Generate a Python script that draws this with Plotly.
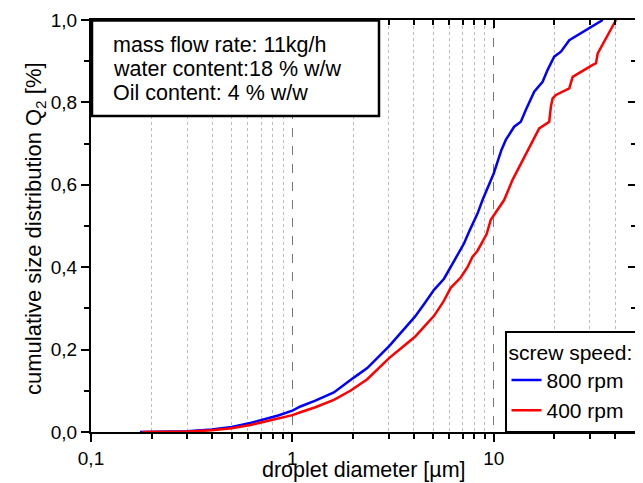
import plotly.graph_objects as go

# droplet diameter [µm] and cumulative distribution values
blue_x = [0.175, 0.25, 0.30, 0.398, 0.50, 0.618, 0.748, 0.85, 1.0, 1.096, 1.30, 1.606,
          2.018, 2.353, 3.03, 3.5, 4.06, 4.5, 5.05, 5.66, 6.11, 6.5, 7.12, 7.6, 8.3,
          8.79, 9.5, 10.0, 10.9, 11.47, 12.62, 13.62, 14.43, 15.28, 15.87, 17.47,
          18.50, 19.95, 21.54, 23.70, 34.74]
blue_y = [0.0, 0.0005, 0.002, 0.006, 0.012, 0.022, 0.033, 0.040, 0.052, 0.062, 0.076, 0.096,
          0.132, 0.155, 0.209, 0.245, 0.280, 0.310, 0.345, 0.372, 0.401, 0.425, 0.458, 0.490, 0.530,
          0.563, 0.600, 0.628, 0.684, 0.709, 0.741, 0.753, 0.782, 0.810, 0.826, 0.850,
          0.879, 0.911, 0.923, 0.951, 1.0]

red_x = [0.18, 0.30, 0.398, 0.50, 0.618, 0.748, 0.85, 1.0, 1.096, 1.30, 1.606, 1.94,
         2.353, 3.03, 3.5, 4.06, 4.5, 5.05, 5.6, 6.11, 6.85, 7.4, 7.83, 8.3, 8.79, 9.2,
         9.66, 11.25, 12.39, 13.62, 14.72, 15.87, 16.80, 18.84, 19.21, 19.59, 20.35,
         23.70, 24.63, 30.97, 32.17, 32.80, 36.07, 40.45]
red_y = [0.0, 0.001, 0.004, 0.009, 0.017, 0.026, 0.032, 0.041, 0.048, 0.060, 0.078, 0.100,
         0.128, 0.180, 0.205, 0.231, 0.255, 0.282, 0.315, 0.350, 0.375, 0.400, 0.425, 0.440, 0.462, 0.480,
         0.515, 0.563, 0.612, 0.652, 0.684, 0.713, 0.737, 0.753, 0.790, 0.810, 0.818,
         0.834, 0.862, 0.891, 0.895, 0.919, 0.955, 1.0]

series_names = ["800 rpm", "400 rpm"]
legend_title = "screw speed:"
info_lines = ["mass flow rate: 11kg/h", "water content:18 % w/w", "Oil content: 4 % w/w"]
x_title = "droplet diameter [µm]"
y_title = "cumulative size distribution Q<sub>2</sub> [%]"

x_major = [0.1, 1, 10]
x_major_text = ["0,1", "1", "10"]
x_minor = [0.2, 0.3, 0.4, 0.5, 0.6, 0.7, 0.8, 0.9, 2, 3, 4, 5, 6, 7, 8, 9, 20, 30, 40]
y_major = [0, 0.2, 0.4, 0.6, 0.8, 1.0]
y_minor = [0.1, 0.3, 0.5, 0.7, 0.9]

FONT = "Liberation Sans, Arial, sans-serif"
# the page body adds an 8 px offset; the figure is sized to fit the window
W, H = 635, 475
L, T, PW, PH = 83, 12, 545, 412
R, B = W - L - PW, H - T - PH
SX0, SY0 = 91, 20  # plot-area top-left as seen in the window


def px(sx):
    return (sx - SX0) / PW


def py(sy):
    return (SY0 + PH - sy) / PH


fig = go.Figure()
fig.add_trace(go.Scatter(x=blue_x, y=blue_y, mode="lines", name=series_names[0],
                         line=dict(color="#0000FF", width=2.5)))
fig.add_trace(go.Scatter(x=red_x, y=red_y, mode="lines", name=series_names[1],
                         line=dict(color="#FF0000", width=2.5)))
# invisible trace to carry mirrored axes
fig.add_trace(go.Scatter(x=[1], y=[0.5], xaxis="x2", yaxis="y2", mode="markers",
                         marker=dict(opacity=0), showlegend=False, hoverinfo="skip"))

xr = [-1, 1.706]
fig.update_layout(
    width=W, height=H,
    margin=dict(l=L, r=R, t=T, b=B, autoexpand=False),
    paper_bgcolor="white", plot_bgcolor="white",
    separators=",.",
    font=dict(family=FONT, size=19, color="black"),
    showlegend=True,
    legend=dict(
        title=dict(text=legend_title, font=dict(size=21)),
        x=1, y=0, xanchor="right", yanchor="bottom",
        bgcolor="white", bordercolor="black", borderwidth=1.5,
        font=dict(size=21), tracegroupgap=0,
    ),
    xaxis=dict(
        type="log", range=xr, automargin=False,
        tickmode="array", tickvals=x_major, ticktext=x_major_text,
        tickfont=dict(size=19),
        ticks="outside", ticklen=8, tickwidth=1.5, tickcolor="black",
        showline=True, linecolor="black", linewidth=2, mirror=True,
        showgrid=True, gridcolor="#777777", griddash="dash", gridwidth=1,
        minor=dict(tickmode="array", tickvals=x_minor, ticks="outside", ticklen=5,
                   tickwidth=1.5, tickcolor="black", showgrid=True,
                   gridcolor="#BBBBBB", griddash="dot", gridwidth=1),
        zeroline=False,
    ),
    yaxis=dict(
        range=[0, 1], automargin=False, tickmode="array", tickvals=y_major,
        tickformat=".1f", tickfont=dict(size=19),
        ticks="outside", ticklen=8, tickwidth=1.5, tickcolor="black",
        showline=True, linecolor="black", linewidth=2, mirror=True,
        showgrid=False, zeroline=False,
        minor=dict(tickmode="array", tickvals=y_minor, ticks="outside",
                   ticklen=5, tickwidth=1.5, tickcolor="black", showgrid=False),
    ),
    xaxis2=dict(
        type="log", range=xr, overlaying="x", side="top", automargin=False,
        tickmode="array", tickvals=x_major, showticklabels=False,
        ticks="inside", ticklen=8, tickwidth=1.5, tickcolor="black",
        showgrid=False, zeroline=False, showline=False,
        minor=dict(tickmode="array", tickvals=x_minor, ticks="inside", ticklen=5,
                   tickwidth=1.5, tickcolor="black", showgrid=False),
    ),
    yaxis2=dict(
        range=[0, 1], overlaying="y", side="right", automargin=False,
        tickmode="array", tickvals=y_major, showticklabels=False,
        ticks="inside", ticklen=8, tickwidth=1.5, tickcolor="black",
        showgrid=False, zeroline=False, showline=False,
        minor=dict(tickmode="array", tickvals=y_minor, ticks="inside",
                   ticklen=5, tickwidth=1.5, tickcolor="black", showgrid=False),
    ),
)

# axis titles as annotations (placed like the reference)
fig.add_annotation(text=x_title, xref="paper", yref="paper", x=0.5, y=py(470),
                   xanchor="center", yanchor="middle", showarrow=False,
                   font=dict(family=FONT, size=21.5, color="black"))
fig.add_annotation(text=y_title, xref="paper", yref="paper", x=px(35), y=py(229),
                   xanchor="center", yanchor="middle", showarrow=False, textangle=-90,
                   font=dict(family=FONT, size=22, color="black"))

# info box
fig.add_shape(type="rect", xref="paper", yref="paper", x0=px(92), x1=px(379), y0=py(116), y1=py(20.5),
              line=dict(color="black", width=2.5), fillcolor="white", layer="above")
for i, (line, sy) in enumerate(zip(info_lines, [45, 69, 93])):
    fig.add_annotation(text=line, xref="paper", yref="paper", x=px(111), y=py(sy),
                       xanchor="left", yanchor="middle", showarrow=False,
                       font=dict(family=FONT, size=21.5, color="black"))

fig.write_html("out.html")
